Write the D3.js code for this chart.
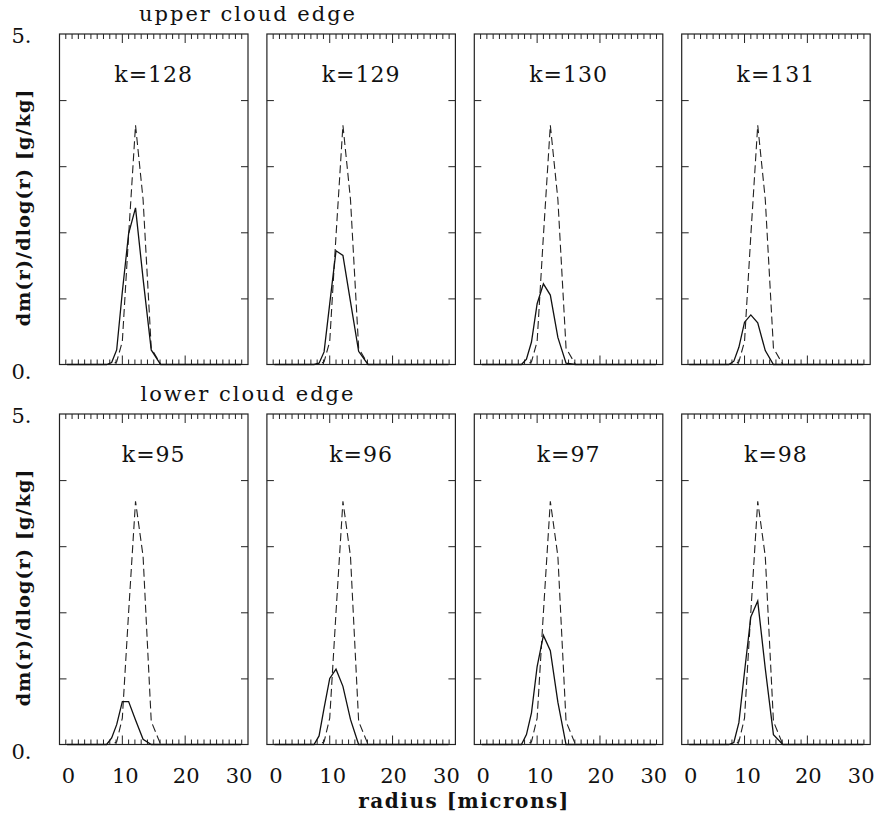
<!DOCTYPE html>
<html>
<head>
<meta charset="utf-8">
<script src="https://cdn.jsdelivr.net/npm/d3@7"></script>
<style>
  body { margin: 0; background: #fff; }
  svg text { font-family: "DejaVu Serif", serif; fill: #111; }
</style>
</head>
<body>
<svg id="chart" width="874" height="814"></svg>
<script>
// radius bins [microns]
var radius = [1.2, 1.9, 2.6, 3.4, 4.3, 5.2, 6.2, 6.8, 7.5, 8.3, 9.1, 10.0, 11.0, 12.1, 13.3, 14.6, 16.1, 17.7, 19.5, 21.4, 23.6, 26.0, 28.9];

// reference spectra (dashed)
var refUpper = [0, 0, 0, 0, 0, 0, 0, 0, 0, 0, 0.04, 0.35, 1.95, 3.62, 2.50, 0.25, 0, 0, 0, 0, 0, 0, 0];
var refLower = [0, 0, 0, 0, 0, 0, 0, 0, 0, 0, 0.04, 0.40, 2.00, 3.68, 2.85, 0.35, 0, 0, 0, 0, 0, 0, 0];

// model spectra (solid)
var k128 = [0, 0, 0, 0, 0, 0, 0, 0, 0, 0.03, 0.22, 1.10, 1.98, 2.37, 1.30, 0.22, 0, 0, 0, 0, 0, 0, 0];
var k129 = [0, 0, 0, 0, 0, 0, 0, 0, 0, 0.02, 0.19, 0.92, 1.72, 1.65, 0.95, 0.20, 0, 0, 0, 0, 0, 0, 0];
var k130 = [0, 0, 0, 0, 0, 0, 0, 0, 0, 0.08, 0.34, 0.92, 1.22, 1.05, 0.41, 0.02, 0, 0, 0, 0, 0, 0, 0];
var k131 = [0, 0, 0, 0, 0, 0, 0, 0, 0, 0.05, 0.26, 0.64, 0.75, 0.63, 0.21, 0, 0, 0, 0, 0, 0, 0, 0];
var k95  = [0, 0, 0, 0, 0, 0, 0, 0, 0, 0.10, 0.30, 0.65, 0.65, 0.37, 0.08, 0, 0, 0, 0, 0, 0, 0, 0];
var k96  = [0, 0, 0, 0, 0, 0, 0, 0, 0, 0.13, 0.55, 1.00, 1.14, 0.88, 0.38, 0, 0, 0, 0, 0, 0, 0, 0];
var k97  = [0, 0, 0, 0, 0, 0, 0, 0, 0, 0.15, 0.48, 1.18, 1.65, 1.42, 0.64, 0, 0, 0, 0, 0, 0, 0, 0];
var k98  = [0, 0, 0, 0, 0, 0, 0, 0, 0, 0.03, 0.33, 1.10, 1.93, 2.17, 1.15, 0.15, 0, 0, 0, 0, 0, 0, 0];

var rowTitles = ["upper cloud edge", "lower cloud edge"];
var panelLabels = [["k=128", "k=129", "k=130", "k=131"], ["k=95", "k=96", "k=97", "k=98"]];
var solidRows = [[k128, k129, k130, k131], [k95, k96, k97, k98]];
var refRows = [refUpper, refLower];
var xTickLabels = [0, 10, 20, 30];
var yEndLabels = ["5.", "0."];

var svg = d3.select("#chart");
var panelW = 188.5, panelH = 330.5;
var rowTop = [34, 414];
var colLeft = [59.5, 266.9, 474.3, 681.7];
var labelNudge = [9, 3, 1, -9];

var x = d3.scaleLinear().domain([0, 30]).range([0, panelW]);
var y = d3.scaleLinear().domain([0, 5]).range([panelH, 0]);

var line = d3.line()
    .x(function(d){ return x(d[0]); })
    .y(function(d){ return y(d[1]); });

function pairs(vals){
  return radius.map(function(r, i){ return [r, vals[i]]; });
}

for (var row = 0; row < 2; row++) {
  for (var col = 0; col < 4; col++) {
    var g = svg.append("g")
        .attr("transform", "translate(" + colLeft[col] + "," + rowTop[row] + ")");

    // minor / major ticks on top and bottom edges, pointing inward
    var minor = d3.range(1, 30).filter(function(v){ return v % 10 != 0; });
    [["top", 0], ["bottom", panelH]].forEach(function(e){
      var tickG = g.append("g").attr("transform", "translate(0," + e[1] + ")");
      var dir = e[0] == "top" ? 1 : -1;
      tickG.selectAll(".mn").data(minor).enter().append("line")
        .attr("x1", function(d){ return x(d); }).attr("x2", function(d){ return x(d); })
        .attr("y1", 0).attr("y2", dir * 5)
        .attr("stroke", "#222").attr("stroke-width", 1);
      tickG.selectAll(".mj").data([10, 20]).enter().append("line")
        .attr("x1", function(d){ return x(d); }).attr("x2", function(d){ return x(d); })
        .attr("y1", 0).attr("y2", dir * 9)
        .attr("stroke", "#222").attr("stroke-width", 1);
    });

    // y ticks on both sides
    var yAxL = d3.axisRight(y).tickValues([1, 2, 3, 4]).tickSize(7).tickFormat("");
    var yAxR = d3.axisLeft(y).tickValues([1, 2, 3, 4]).tickSize(7).tickFormat("");
    g.append("g").call(yAxL).call(function(s){ s.select(".domain").remove(); })
      .selectAll("line").attr("stroke", "#222");
    g.append("g").attr("transform", "translate(" + panelW + ",0)").call(yAxR)
      .call(function(s){ s.select(".domain").remove(); })
      .selectAll("line").attr("stroke", "#222");

    // frame
    g.append("rect")
      .attr("width", panelW).attr("height", panelH)
      .attr("fill", "none").attr("stroke", "#222").attr("stroke-width", 1.2);

    // reference (dashed)
    g.append("path")
      .datum(pairs(refRows[row]))
      .attr("d", line)
      .attr("fill", "none").attr("stroke", "#222")
      .attr("stroke-width", 1.1).attr("stroke-dasharray", "8,4");

    // model (solid)
    g.append("path")
      .datum(pairs(solidRows[row][col]))
      .attr("d", line)
      .attr("fill", "none").attr("stroke", "#111")
      .attr("stroke-width", 1.3);

    // panel label
    g.append("text")
      .attr("x", panelW / 2).attr("y", 48)
      .attr("text-anchor", "middle")
      .style("font-size", "22px").style("letter-spacing", "1px")
      .text(panelLabels[row][col]);

    // x tick labels on bottom row only
    if (row == 1) {
      g.selectAll(".xl").data(xTickLabels).enter().append("text")
        .attr("x", function(d, i){ return x(d) + labelNudge[i]; })
        .attr("y", panelH + 38)
        .attr("text-anchor", "middle")
        .style("font-size", "21px")
        .text(function(d){ return d; });
    }

    // y end labels on first column
    if (col == 0) {
      g.append("text").attr("x", -48).attr("y", 9)
        .style("font-size", "21px").text(yEndLabels[0]);
      g.append("text").attr("x", -48).attr("y", panelH + 14)
        .style("font-size", "21px").text(yEndLabels[1]);
      g.append("text")
        .attr("transform", "translate(-30," + (panelH / 2 + 8) + ") rotate(-90)")
        .attr("text-anchor", "middle")
        .style("font-size", "19px").style("font-weight", "bold").style("letter-spacing", "1.2px")
        .text("dm(r)/dlog(r) [g/kg]");
    }
  }

  svg.append("text")
    .attr("x", 248).attr("y", rowTop[row] - 13)
    .attr("text-anchor", "middle")
    .style("font-size", "21px").style("letter-spacing", "2px")
    .text(rowTitles[row]);
}

svg.append("text")
  .attr("x", 464).attr("y", 808)
  .attr("text-anchor", "middle")
  .style("font-size", "20px").style("font-weight", "bold").style("letter-spacing", "1.5px")
  .text("radius [microns]");
</script>
</body>
</html>
